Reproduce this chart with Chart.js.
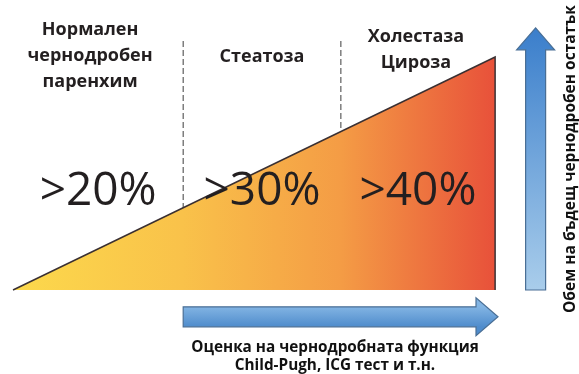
<!DOCTYPE html>
<html>
<head>
<meta charset="utf-8">
<script src="https://cdn.jsdelivr.net/npm/chart.js@4.4.1/dist/chart.umd.min.js"></script>
<style>
  html, body { margin: 0; padding: 0; background: #ffffff; }
  #wrap { width: 579px; height: 374px; position: relative; }
</style>
</head>
<body>
<div id="wrap"><canvas id="liverChart" width="579" height="374"></canvas></div>
<script>
// stages of liver condition (x in % of the scale, y = required remnant trend)
const stageNames = [["Нормален", "чернодробен", "паренхим"], ["Стеатоза"], ["Холестаза", "Цироза"]];
const stageLimits = [0, 35.3, 68, 100];
const remnantLabels = [">20%", ">30%", ">40%"];
const wedgeX = [0, 100, 100];
const wedgeY = [0, 100, 0];
const dividerTop = 107;
const axisTexts = {
    bottom: ["Оценка на чернодробната функция", "Child-Pugh, ICG тест и т.н."],
    side: "Обем на бъдещ чернодробен остатък"
};

const FONT = "'Open Sans', 'Noto Sans', sans-serif";

function wedgeGradient(context) {
    const { chart } = context;
    const area = chart.chartArea;
    if (!area) return '#f5a640';
    const xs = chart.scales.x;
    const g = chart.ctx.createLinearGradient(xs.getPixelForValue(0), 0, xs.getPixelForValue(100), 0);
    g.addColorStop(0, '#fcd94c');
    g.addColorStop(0.35, '#f9c24a');
    g.addColorStop(0.68, '#f49c45');
    g.addColorStop(1, '#e8513a');
    return g;
}

function drawArrow(ctx, x0, y0, x1, y1, half, headHalf, headLen, fill) {
    const len = Math.hypot(x1 - x0, y1 - y0);
    const ang = Math.atan2(y1 - y0, x1 - x0);
    ctx.save();
    ctx.translate(x0, y0);
    ctx.rotate(ang);
    ctx.beginPath();
    ctx.moveTo(0, -half);
    ctx.lineTo(len - headLen, -half);
    ctx.lineTo(len - headLen, -headHalf);
    ctx.lineTo(len, 0);
    ctx.lineTo(len - headLen, headHalf);
    ctx.lineTo(len - headLen, half);
    ctx.lineTo(0, half);
    ctx.closePath();
    ctx.setTransform(1, 0, 0, 1, 0, 0);
    ctx.fillStyle = fill;
    ctx.fill();
    ctx.lineWidth = 1.2;
    ctx.strokeStyle = '#4a6f95';
    ctx.stroke();
    ctx.restore();
}

const diagramPlugin = {
    id: 'diagramPlugin',
    afterDatasetsDraw(chart) {
        const { ctx } = chart;
        const xs = chart.scales.x, ys = chart.scales.y;
        ctx.save();
        ctx.textAlign = 'center';
        ctx.textBaseline = 'middle';

        // stage titles + percentages
        for (let i = 0; i < remnantLabels.length; i++) {
            const cx = xs.getPixelForValue((stageLimits[i] + stageLimits[i + 1]) / 2);
            ctx.fillStyle = '#231f20';
            ctx.font = `400 46px ${FONT}`;
            ctx.fillText(remnantLabels[i], cx, ys.getPixelForValue(42));
            ctx.font = `bold 18px ${FONT}`;
            const lines = stageNames[i];
            const tx = i === 0 ? cx - 8 : (i === 2 ? cx - 2 : cx);
            const topY = lines.length === 3 ? 30 : (lines.length === 2 ? 37 : 57);
            lines.forEach((t, k) => ctx.fillText(t, tx, topY + k * 26));
        }

        // horizontal arrow (liver function assessment)
        const hy = ys.getPixelForValue(-11.5);
        const hx0 = xs.getPixelForValue(stageLimits[1]);
        const hx1 = xs.getPixelForValue(100.6);
        const hg = ctx.createLinearGradient(0, hy - 10, 0, hy + 10);
        hg.addColorStop(0, '#82b4e3');
        hg.addColorStop(1, '#4f8ccc');
        drawArrow(ctx, hx0, hy, hx1, hy, 10, 19, 22, hg);

        ctx.fillStyle = '#111111';
        ctx.font = `bold 15.3px ${FONT}`;
        ctx.fillText(axisTexts.bottom[0], 335, 348);
        ctx.fillText(axisTexts.bottom[1], 335, 366);

        // vertical arrow (future remnant volume)
        const vx = xs.getPixelForValue(108.4);
        const vy0 = ys.getPixelForValue(0);
        const vy1 = ys.getPixelForValue(112.5);
        const vg = ctx.createLinearGradient(0, vy1, 0, vy0);
        vg.addColorStop(0, '#3a7ecb');
        vg.addColorStop(1, '#a9cdeb');
        drawArrow(ctx, vx, vy0, vx, vy1, 10, 19, 22, vg);

        ctx.save();
        ctx.translate(571, 313);
        ctx.rotate(-Math.PI / 2);
        ctx.textAlign = 'left';
        ctx.font = `bold 15.5px ${FONT}`;
        ctx.fillText(axisTexts.side, 0, 0);
        ctx.restore();

        ctx.restore();
    }
};

const dividerSets = stageLimits.slice(1, 3).map(x => ({
    type: 'line',
    data: [{ x: x, y: 0 }, { x: x, y: dividerTop }],
    borderColor: '#5e5e5e',
    borderWidth: 1.2,
    borderDash: [6, 3],
    pointRadius: 0,
    fill: false
}));

new Chart(document.getElementById('liverChart').getContext('2d'), {
    type: 'line',
    data: {
        datasets: [
            {
                data: wedgeX.map((x, i) => ({ x: x, y: wedgeY[i] })),
                borderColor: '#3a3032',
                borderWidth: 1.5,
                backgroundColor: wedgeGradient,
                fill: 'origin',
                pointRadius: 0,
                tension: 0
            },
            ...dividerSets
        ]
    },
    options: {
        responsive: false,
        animation: false,
        layout: { padding: 0 },
        plugins: {
            legend: { display: false },
            tooltip: { enabled: false }
        },
        scales: {
            x: { type: 'linear', min: -2.7, max: 117.4, display: false },
            y: { type: 'linear', min: -36.05, max: 124.46, display: false }
        }
    },
    plugins: [diagramPlugin]
});
</script>
</body>
</html>
